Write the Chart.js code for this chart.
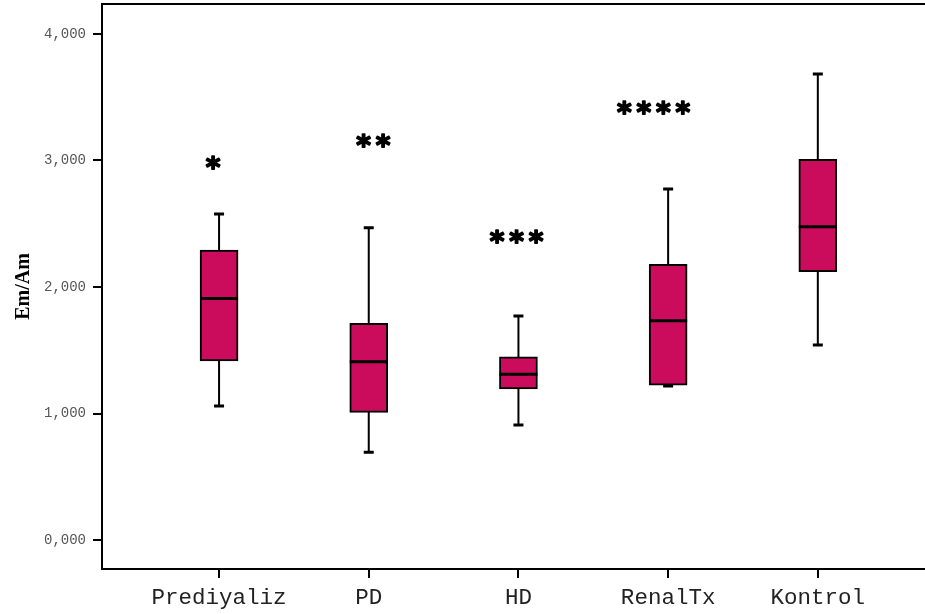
<!DOCTYPE html>
<html>
<head>
<meta charset="utf-8">
<script src="https://cdn.jsdelivr.net/npm/chart.js@4.4.1/dist/chart.umd.min.js"></script>
<style>
  html, body { margin: 0; padding: 0; background: #fff; }
  #wrap { width: 925px; height: 614px; }
</style>
</head>
<body>
<div id="wrap"><canvas id="boxChart" width="925" height="614"></canvas></div>
<script>
// GROUPS
const groups = ["Prediyaliz", "PD", "HD", "RenalTx", "Kontrol"];

// BOX PLOT STATS (Em/Am)
const whiskerLow  = [1.059, 0.693, 0.909, 1.217, 1.541];
const quartile1   = [1.415, 1.009, 1.194, 1.225, 2.121];
const medians     = [1.910, 1.410, 1.310, 1.734, 2.477];
const quartile3   = [2.292, 1.713, 1.449, 2.179, 3.009];
const whiskerHigh = [2.577, 2.469, 1.771, 2.775, 3.684];

// SIGNIFICANCE MARKS
const starCount = [1, 2, 3, 4, 0];
const starY     = [2.980, 3.154, 2.395, 3.415, null];
const starDx    = [-0.04, 0.03, -0.013, -0.097, 0];

// Y TICKS
const yTicks = [0, 1, 2, 3, 4];

const boxColor = "#cb0c5c";

// whiskers under the boxes, medians and stars on top
const boxPlotPlugin = {
  id: "boxPlot",
  beforeDatasetsDraw(chart) {
    const { ctx, scales: { x, y } } = chart;
    ctx.save();
    ctx.strokeStyle = "#000";
    ctx.lineWidth = 2;
    groups.forEach((g, i) => {
      const cx = x.getPixelForValue(i);
      const lo = y.getPixelForValue(whiskerLow[i]);
      const hi = y.getPixelForValue(whiskerHigh[i]);
      ctx.beginPath();
      ctx.moveTo(cx, lo);
      ctx.lineTo(cx, hi);
      ctx.stroke();
      ctx.lineWidth = 3;
      ctx.beginPath();
      ctx.moveTo(cx - 5, lo);
      ctx.lineTo(cx + 5, lo);
      ctx.moveTo(cx - 5, hi);
      ctx.lineTo(cx + 5, hi);
      ctx.stroke();
      ctx.lineWidth = 2;
    });
    ctx.restore();
  },
  afterDatasetsDraw(chart) {
    const { ctx, chartArea, scales: { x, y } } = chart;
    ctx.save();
    ctx.strokeStyle = "#000";
    ctx.lineWidth = 3;
    groups.forEach((g, i) => {
      const cx = x.getPixelForValue(i);
      const my = y.getPixelForValue(medians[i]);
      ctx.beginPath();
      ctx.moveTo(cx - 19, my);
      ctx.lineTo(cx + 19, my);
      ctx.stroke();
    });

    // asterisks, one glyph at a time, centred on the value
    ctx.fillStyle = "#000";
    ctx.lineWidth = 1.6;
    ctx.lineJoin = "round";
    ctx.font = "bold 28px 'DejaVu Sans', sans-serif";
    ctx.textAlign = "center";
    ctx.textBaseline = "alphabetic";
    const step = 19.5;
    groups.forEach((g, i) => {
      if (!starCount[i]) return;
      const cx = x.getPixelForValue(i + starDx[i]);
      const cy = y.getPixelForValue(starY[i]);
      const m = ctx.measureText("*");
      const dy = (m.actualBoundingBoxAscent - m.actualBoundingBoxDescent) / 2;
      for (let k = 0; k < starCount[i]; k++) {
        const sx = cx + (k - (starCount[i] - 1) / 2) * step;
        ctx.fillText("*", sx, cy + dy);
        ctx.strokeText("*", sx, cy + dy);
      }
    });

    // top frame line
    ctx.lineWidth = 2;
    ctx.beginPath();
    ctx.moveTo(chartArea.left, chartArea.top);
    ctx.lineTo(chartArea.right, chartArea.top);
    ctx.stroke();
    ctx.restore();
  }
};

new Chart(document.getElementById("boxChart"), {
  type: "bar",
  data: {
    datasets: [{
      data: groups.map((g, i) => ({ x: i, y: [quartile1[i], quartile3[i]] })),
      backgroundColor: boxColor,
      borderColor: "#000",
      borderWidth: 2,
      borderSkipped: false,
      barThickness: 38
    }]
  },
  plugins: [boxPlotPlugin],
  options: {
    responsive: false,
    animation: false,
    layout: { padding: { top: 4, right: 0, bottom: 0, left: 0 } },
    plugins: {
      legend: { display: false },
      tooltip: { enabled: false }
    },
    scales: {
      x: {
        type: "linear",
        offset: false,
        min: -0.782,
        max: 4.716,
        afterBuildTicks: (scale) => { scale.ticks = groups.map((g, i) => ({ value: i })); },
        afterFit: (scale) => {
          scale.height = 45;
          scale.paddingLeft = 0;
          scale.paddingRight = 0;
        },
        grid: {
          offset: false,
          drawOnChartArea: false,
          tickLength: 9,
          tickColor: "#000",
          lineWidth: 2
        },
        border: { color: "#000", width: 2 },
        ticks: {
          color: "#222",
          padding: 7,
          maxRotation: 0,
          autoSkip: false,
          font: { family: "'Liberation Mono', monospace", size: 22.5 },
          callback: (v) => groups[v]
        }
      },
      y: {
        min: -0.229,
        max: 4.237,
        afterBuildTicks: (scale) => { scale.ticks = yTicks.map(v => ({ value: v })); },
        afterFit: (scale) => {
          scale.width = 102;
          scale.paddingTop = 0;
          scale.paddingBottom = 0;
        },
        grid: {
          drawOnChartArea: false,
          tickLength: 9,
          tickColor: "#000",
          lineWidth: 2
        },
        border: { color: "#000", width: 2 },
        ticks: {
          color: "#555",
          padding: 7,
          font: { family: "'Liberation Mono', monospace", size: 14 },
          callback: (v) => v.toFixed(3).replace(".", ",")
        },
        title: {
          display: true,
          text: "Em/Am",
          color: "#000",
          padding: { top: 12, bottom: 0 },
          font: { family: "'Liberation Serif', serif", size: 20, weight: "bold" }
        }
      }
    }
  }
});
</script>
</body>
</html>
